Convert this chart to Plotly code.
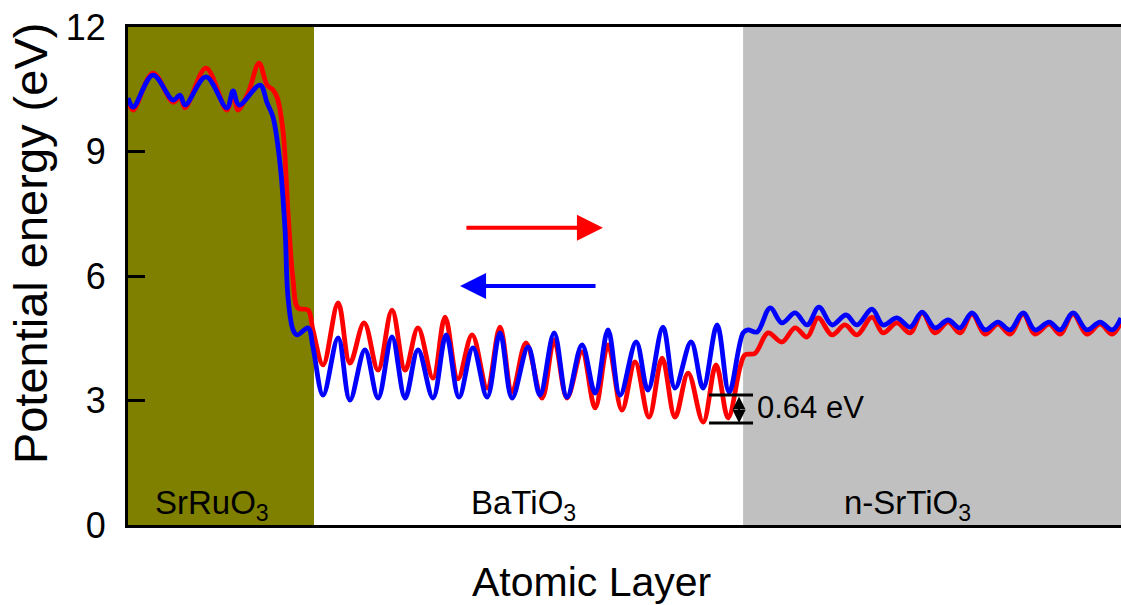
import plotly.graph_objects as go

# ---- data (x in atomic-layer units, energy in eV) ----
x_blue = [0.00, 0.19, 0.93, 1.68, 1.94, 2.13, 2.91, 3.69, 3.92, 4.14, 4.93, 5.19, 5.41, 5.67, 5.86, 5.97,
          6.16, 6.31, 6.72, 6.90, 7.28, 7.84, 8.28, 8.84, 9.33, 9.85, 10.34, 10.82, 11.38, 11.87, 12.35,
          12.87, 13.40, 13.88, 14.33, 14.93, 15.37, 15.90, 16.38, 16.94, 17.43, 17.91, 18.36, 18.96, 19.40,
          19.96, 20.41, 21.01, 21.46, 21.98, 22.43, 22.95, 23.13, 23.47, 23.96, 24.40, 24.89, 25.34, 25.78,
          26.27, 26.79, 27.20, 27.76, 28.17, 28.69, 29.18, 29.63, 30.11, 30.60, 31.04, 31.49, 31.98, 32.46,
          32.91, 33.40, 33.84, 34.37, 34.78, 35.26, 35.78, 36.27, 36.72, 37.05]
e_blue = [10.29, 10.07, 10.84, 10.24, 10.36, 10.12, 10.80, 10.05, 10.46, 10.12, 10.60, 10.17, 9.83, 8.72, 7.11, 5.49,
          4.70, 4.58, 4.75, 4.29, 3.13, 4.51, 3.01, 4.22, 3.06, 4.53, 3.06, 4.22, 3.06, 4.58, 3.08,
          4.27, 3.08, 4.63, 3.06, 4.29, 3.13, 4.63, 3.08, 4.34, 3.18, 4.70, 3.13, 4.41, 3.25,
          4.77, 3.30, 4.41, 3.30, 4.82, 3.20, 4.63, 4.70, 4.65, 5.23, 4.87, 5.11, 4.82, 5.25,
          4.82, 5.06, 4.82, 5.20, 4.82, 4.99, 4.77, 5.13, 4.75, 4.94, 4.75, 5.11, 4.70, 4.89,
          4.70, 5.11, 4.70, 4.89, 4.70, 5.11, 4.70, 4.89, 4.70, 4.99]

x_red = [0.00, 0.19, 0.93, 1.68, 1.94, 2.13, 2.91, 3.69, 3.92, 4.10, 4.48, 4.89, 5.19, 5.41, 5.56, 5.78,
         5.97, 6.16, 6.34, 6.72, 6.90, 7.28, 7.84, 8.28, 8.81, 9.33, 9.85, 10.34, 10.82, 11.38, 11.83,
         12.31, 12.84, 13.40, 13.88, 14.33, 14.85, 15.45, 15.90, 16.38, 16.94, 17.43, 17.91, 18.43, 18.92,
         19.44, 19.93, 20.41, 20.90, 21.46, 21.94, 22.39, 22.84, 23.02, 23.40, 23.88, 24.40, 24.89, 25.34,
         25.75, 26.27, 26.75, 27.20, 27.76, 28.17, 28.69, 29.18, 29.63, 30.11, 30.60, 31.04, 31.49, 31.98,
         32.46, 32.91, 33.40, 33.84, 34.37, 34.78, 35.26, 35.78, 36.27, 36.72, 37.05]
e_red = [10.24, 10.00, 10.89, 10.19, 10.31, 10.05, 11.01, 10.00, 10.43, 10.00, 10.41, 11.13, 10.60, 10.48, 10.31, 9.52,
         7.52, 5.90, 5.23, 5.18, 4.70, 3.86, 5.35, 3.90, 4.87, 3.73, 5.18, 3.73, 4.75, 3.54, 5.01,
         3.52, 4.58, 3.30, 4.77, 3.20, 4.39, 3.06, 4.46, 3.06, 4.17, 2.82, 4.34, 2.77, 3.93,
         2.60, 4.02, 2.60, 3.66, 2.48, 3.86, 2.58, 3.81, 4.10, 4.14, 4.63, 4.41, 4.75, 4.53,
         4.99, 4.58, 4.82, 4.58, 5.01, 4.63, 4.87, 4.63, 5.11, 4.63, 4.89, 4.63, 5.08, 4.60,
         4.84, 4.60, 5.08, 4.60, 4.84, 4.60, 5.08, 4.60, 4.84, 4.60, 4.89]

regions = ["SrRuO<sub>3</sub>", "BaTiO<sub>3</sub>", "n-SrTiO<sub>3</sub>"]
region_start = [0.0, 6.94, 22.95]
region_end = [6.94, 22.95, 37.05]
region_label_x = [3.13, 14.74, 29.07]
region_color = ["#808000", "#FFFFFF", "#C0C0C0"]

y_ticks = [0, 3, 6, 9, 12]
gap_top, gap_bottom = 3.13, 2.46   # 0.64 eV marker levels
gap_x = [21.68, 23.32]
gap_label = "0.64 eV"

red_arrow = dict(x0=12.57, x1=17.72, y=7.16)
blue_arrow = dict(x0=17.50, x1=12.39, y=5.76)

x_title = "Atomic Layer"
y_title = "Potential energy (eV)"

FONT = "Liberation Sans, Arial, sans-serif"

fig = go.Figure()

fig.add_trace(go.Scatter(x=x_red, y=e_red, mode="lines",
                         line=dict(color="#FF0000", width=4.8, shape="spline", smoothing=1.0),
                         showlegend=False, hoverinfo="skip"))
fig.add_trace(go.Scatter(x=x_blue, y=e_blue, mode="lines",
                         line=dict(color="#0000FF", width=4.8, shape="spline", smoothing=1.0),
                         showlegend=False, hoverinfo="skip"))

# region backgrounds
for s, e, c in zip(region_start, region_end, region_color):
    fig.add_shape(type="rect", xref="x", yref="paper", x0=s, x1=e, y0=0, y1=1,
                  fillcolor=c, line=dict(width=0), layer="below")

# gap marker bars
for yv in (gap_top, gap_bottom):
    fig.add_shape(type="line", xref="x", yref="y", x0=gap_x[0], x1=gap_x[1], y0=yv, y1=yv,
                  line=dict(color="black", width=3))

annotations = []
# region labels
for name, xc in zip(regions, region_label_x):
    annotations.append(dict(x=xc, y=0.48, xref="x", yref="y",
                            text=name, showarrow=False, font=dict(family=FONT, size=33, color="black")))
# double-headed arrow for gap
annotations.append(dict(x=22.80, y=gap_bottom, ax=22.80, ay=gap_top, xref="x", yref="y", axref="x", ayref="y",
                        text="", showarrow=True, arrowhead=2, startarrowhead=2, arrowside="end+start",
                        arrowwidth=2, arrowsize=1.3, startarrowsize=1.3, arrowcolor="black"))
annotations.append(dict(x=23.40, y=2.84, xref="x", yref="y", text=gap_label, showarrow=False,
                        xanchor="left", font=dict(family=FONT, size=31, color="black")))
# polarization arrows
annotations.append(dict(x=red_arrow["x1"], y=red_arrow["y"], ax=red_arrow["x0"], ay=red_arrow["y"],
                        xref="x", yref="y", axref="x", ayref="y", text="", showarrow=True,
                        arrowhead=2, arrowwidth=4, arrowsize=1.3, arrowcolor="#FF0000"))
annotations.append(dict(x=blue_arrow["x1"], y=blue_arrow["y"], ax=blue_arrow["x0"], ay=blue_arrow["y"],
                        xref="x", yref="y", axref="x", ayref="y", text="", showarrow=True,
                        arrowhead=2, arrowwidth=4, arrowsize=1.3, arrowcolor="#0000FF"))
# axis titles
annotations.append(dict(x=0.4663, y=-0.1145, xref="paper", yref="paper", text=x_title, showarrow=False,
                        xanchor="center", yanchor="middle", font=dict(family=FONT, size=41, color="black")))
annotations.append(dict(x=-0.0987, y=0.566, xref="paper", yref="paper", text=y_title, showarrow=False,
                        textangle=-90, xanchor="center", yanchor="middle",
                        font=dict(family=FONT, size=47, color="black")))

fig.update_layout(
    width=1121, height=605,
    margin=dict(l=128, r=0, t=27, b=80),
    paper_bgcolor="white", plot_bgcolor="white",
    font=dict(family=FONT, color="black"),
    annotations=annotations,
)
fig.update_xaxes(range=[0, 37.05], showgrid=False, zeroline=False, showticklabels=False, ticks="",
                 showline=True, linecolor="black", linewidth=3, mirror=True, automargin=False)
fig.update_yaxes(range=[0, 12], tickvals=y_ticks, showgrid=False, zeroline=False,
                 ticks="inside", ticklen=17, tickwidth=3, tickcolor="black",
                 tickfont=dict(family=FONT, size=36), ticklabelstandoff=12,
                 showline=True, linecolor="black", linewidth=3, mirror=False, automargin=False)

fig.write_html("out.html", config={"displayModeBar": False},
               post_script="document.body.style.margin='0';document.body.style.overflow='hidden';")
